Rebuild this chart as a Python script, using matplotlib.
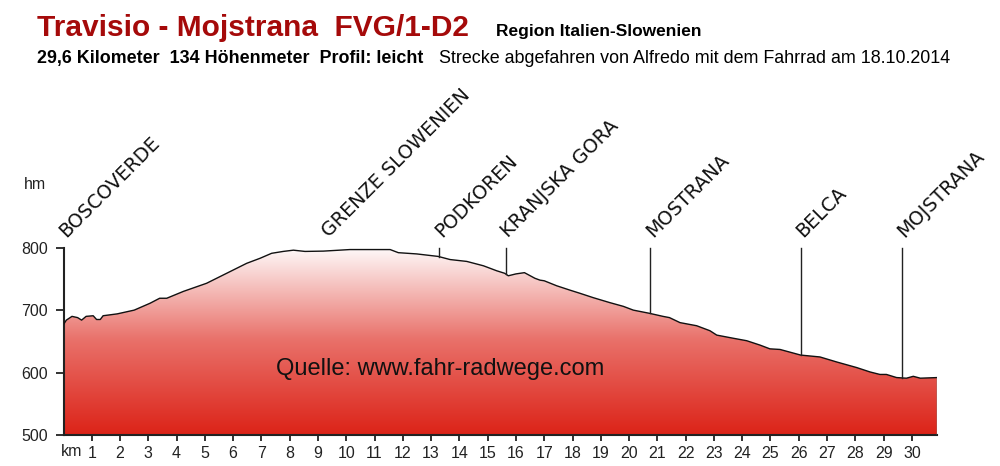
import numpy as np
import matplotlib
matplotlib.use('Agg')
import matplotlib.pyplot as plt
from matplotlib.patches import Polygon
from matplotlib.colors import LinearSegmentedColormap

plt.rcParams['font.family'] = ['Liberation Sans', 'DejaVu Sans']

# elevation profile (km, hm)
km = [0, 0.1, 0.3, 0.5, 0.64, 0.8, 1.05, 1.17, 1.3, 1.4, 1.9, 2.5, 3.06, 3.4,
      3.65, 4.24, 5.06, 5.77, 6.48, 6.95, 7.36, 7.77, 8.13, 8.54, 9.19, 10.13,
      11.55, 11.84, 12.49, 13.25, 13.67, 14.26, 14.85, 15.32, 15.6, 15.73, 16.0,
      16.3, 16.67, 16.85, 17.0, 17.44, 17.91, 18.26, 18.73, 19.32, 19.8, 20.15,
      20.71, 21.2, 21.43, 21.8, 22.39, 22.86, 23.1, 23.68, 24.16, 24.63, 24.98,
      25.34, 26.07, 26.75, 27.34, 28.05, 28.52, 28.87, 29.1, 29.46, 29.81, 30.05,
      30.3, 30.9]
elev = [677, 684, 690, 688, 684, 690, 691, 685, 685, 691, 694, 700, 711, 719,
        719, 730, 743, 759, 775, 783, 791, 794, 796, 794, 794.5, 797,
        797, 792, 790, 786, 781, 778, 771, 763, 759, 755, 758,
        760, 751, 748, 747, 739, 732, 727, 720, 712, 706, 700,
        695, 690, 688, 680, 675, 667, 660, 655, 651, 644, 638,
        637, 628, 625, 617, 608, 601, 597, 597, 592, 591, 594,
        591, 592]

# places along the route
place_names = ['BOSCOVERDE', 'GRENZE SLOWENIEN', 'PODKOREN', 'KRANJSKA GORA',
               'MOSTRANA', 'BELCA', 'MOJSTRANA']
place_km = [0.0, 9.3, 13.29, 15.64, 20.74, 26.07, 29.64]
place_line = [False, False, True, True, True, True, True]

xticks = list(range(1, 31))
yticks = [500, 600, 700, 800]

fig = plt.figure(figsize=(10, 4.66), dpi=100)
ax = fig.add_axes([0.0635, 0.0665, 0.8738, 0.402])
ax.set_xlim(0, km[-1])
ax.set_ylim(500, 800)

# gradient fill, white at top to red at bottom
cmap = LinearSegmentedColormap.from_list('prof', ['#dc2318', '#e9716a', '#ffffff'])
grad = np.linspace(0, 1, 256).reshape(-1, 1)
im = ax.imshow(grad, extent=[0, km[-1], 500, 805], origin='lower',
               aspect='auto', cmap=cmap, zorder=1)
verts = list(zip(km, elev)) + [(km[-1], 500), (km[0], 500)]
poly = Polygon(verts, closed=True, facecolor='none', edgecolor='none')
ax.add_patch(poly)
im.set_clip_path(poly)
ax.plot(km, elev, color='#111111', lw=1.0, zorder=3)
ax.plot([km[-1], km[-1]], [500, elev[-1]], color='#3fb0b0', lw=1.0, zorder=3)

# place markers and labels
for name, k, ln in zip(place_names, place_km, place_line):
    if ln:
        ax.plot([k, k], [800, np.interp(k, km, elev)], color='#222222',
                lw=1.0, zorder=3, clip_on=False)
    ax.text(k + 0.1, 815, name, rotation=45, rotation_mode='anchor',
            ha='left', va='baseline', fontsize=13.8, family='DejaVu Sans',
            color='#111111', clip_on=False)

for s in ['top', 'right']:
    ax.spines[s].set_visible(False)
for s in ['left', 'bottom']:
    ax.spines[s].set_linewidth(1.5)
    ax.spines[s].set_color('#222222')
ax.set_xticks(xticks)
ax.set_yticks(yticks)
ax.tick_params(axis='x', direction='out', length=4, width=1.3, pad=4,
               labelsize=11.5, colors='#222222')
ax.tick_params(axis='y', direction='out', length=6, width=1.3, pad=5,
               labelsize=11.5, colors='#222222')

fig.text(0.061, 1 - 452 / 466, 'km', ha='left', va='center', fontsize=11.5, color='#222222')
fig.text(0.024, 1 - 185 / 466, 'hm', ha='left', va='center', fontsize=11.5, color='#222222')

fig.text(0.037, 1 - 36 / 466, 'Travisio - Mojstrana  FVG/1-D2', fontsize=21.5,
         fontweight='bold', color='#a50a0a', ha='left', va='baseline')
fig.text(0.496, 1 - 36 / 466, 'Region Italien-Slowenien', fontsize=12.5,
         fontweight='bold', color='black', ha='left', va='baseline')
fig.text(0.037, 1 - 63 / 466, '29,6 Kilometer  134 Höhenmeter  Profil: leicht',
         fontsize=12.9, fontweight='bold', color='black', ha='left', va='baseline')
fig.text(0.439, 1 - 63 / 466,
         'Strecke abgefahren von Alfredo mit dem Fahrrad am 18.10.2014',
         fontsize=12.9, color='black', ha='left', va='baseline')

ax.text(7.5, 605, 'Quelle: www.fahr-radwege.com', fontsize=17, color='#111111',
        ha='left', va='center', zorder=4)

fig.savefig('out.png', dpi=100)
